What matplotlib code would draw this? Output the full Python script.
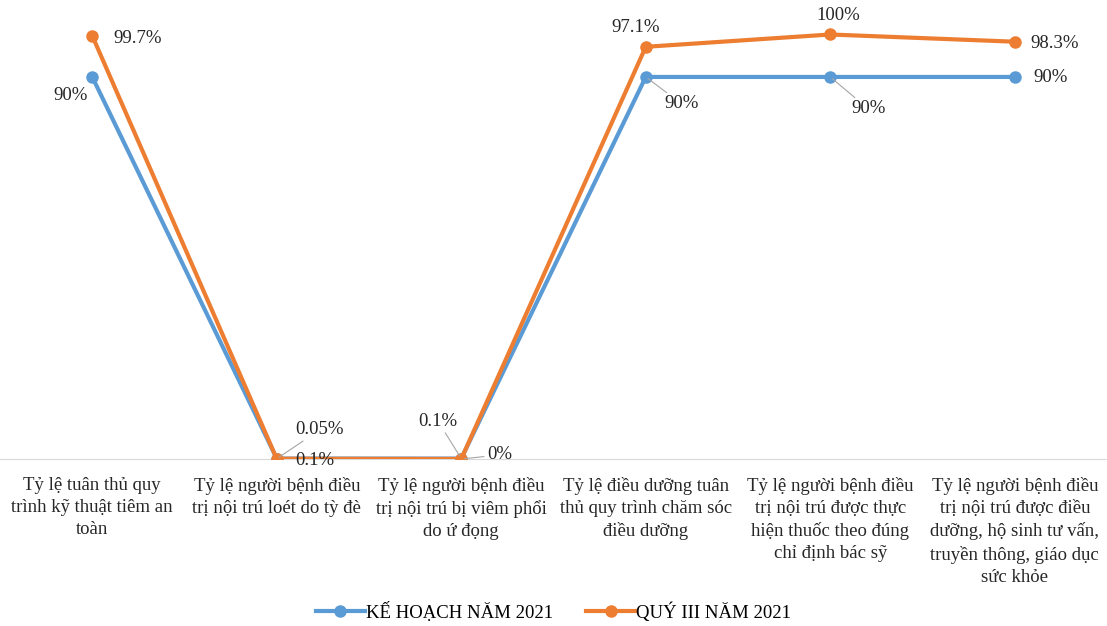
import numpy as np
import matplotlib.pyplot as plt

plt.rcParams['font.family'] = ['Liberation Serif', 'DejaVu Serif']

# Nhãn các chỉ số
categories = [
    "Tỷ lệ tuân thủ quy\ntrình kỹ thuật tiêm an\ntoàn",
    "Tỷ lệ người bệnh điều\ntrị nội trú loét do tỳ đè",
    "Tỷ lệ người bệnh điều\ntrị nội trú bị viêm phổi\ndo ứ đọng",
    "Tỷ lệ điều dưỡng tuân\nthủ quy trình chăm sóc\nđiều dưỡng",
    "Tỷ lệ người bệnh điều\ntrị nội trú được thực\nhiện thuốc theo đúng\nchỉ định bác sỹ",
    "Tỷ lệ người bệnh điều\ntrị nội trú được điều\ndưỡng, hộ sinh tư vấn,\ntruyền thông, giáo dục\nsức khỏe",
]
ke_hoach = [90, 0.1, 0.1, 90, 90, 90]
quy_iii = [99.7, 0.05, 0, 97.1, 100, 98.3]
ten_series = ["KẾ HOẠCH NĂM 2021", "QUÝ III NĂM 2021"]

blue = '#5B9BD5'
orange = '#ED7D31'
fs = 13.5

fig = plt.figure(figsize=(11.07, 6.26), dpi=100)
ax = fig.add_axes([0.0, 0.2668, 1.0, 0.712])

x = np.arange(len(categories))
ax.plot(x, ke_hoach, '-o', color=blue, lw=3, ms=8, label=ten_series[0], zorder=3)
ax.plot(x, quy_iii, '-o', color=orange, lw=3, ms=8, label=ten_series[1], zorder=4)

ax.set_xlim(-0.5, len(categories) - 0.5)
ax.set_ylim(0, 105)
for s in ['top', 'right', 'left']:
    ax.spines[s].set_visible(False)
ax.spines['bottom'].set_color('#d9d9d9')
ax.set_yticks([])
ax.set_xticks(x)
ax.set_xticklabels(categories, fontsize=fs, linespacing=1.38)
ax.tick_params(axis='x', length=0, pad=13, colors='#262626')

# nhãn dữ liệu (offset theo pixel)
lead = dict(arrowstyle='-', color='#a6a6a6', lw=0.8, shrinkA=0, shrinkB=2)
def nhan(xi, yi, txt, dx, dy, line=False):
    ax.annotate(txt, (xi, yi), xytext=(dx, dy), textcoords='offset pixels',
                ha='center', va='center', fontsize=fs, color='#262626',
                arrowprops=lead if line else None, zorder=6)

nhan(0, ke_hoach[0], "90%", -22, -19)
nhan(0, quy_iii[0], "99.7%", 45, -3)
nhan(1, quy_iii[1], "0.05%", 43, 29, line=True)
nhan(1, ke_hoach[1], "0.1%", 38, -2)
nhan(2, ke_hoach[2], "0.1%", -23, 37, line=True)
nhan(2, quy_iii[2], "0%", 38, 4, line=True)
nhan(3, quy_iii[3], "97.1%", -10, 19)
nhan(3, ke_hoach[3], "90%", 36, -27, line=True)
nhan(4, quy_iii[4], "100%", 8, 19)
nhan(4, ke_hoach[4], "90%", 38, -32, line=True)
nhan(5, quy_iii[5], "98.3%", 40, -2)
nhan(5, ke_hoach[5], "90%", 36, -1)

fig.legend(loc='lower center', bbox_to_anchor=(0.5, -0.02), ncol=2, frameon=False,
           fontsize=fs, handlelength=2.6, columnspacing=1.8, handletextpad=0.05)

plt.savefig('out.png', dpi=100)
